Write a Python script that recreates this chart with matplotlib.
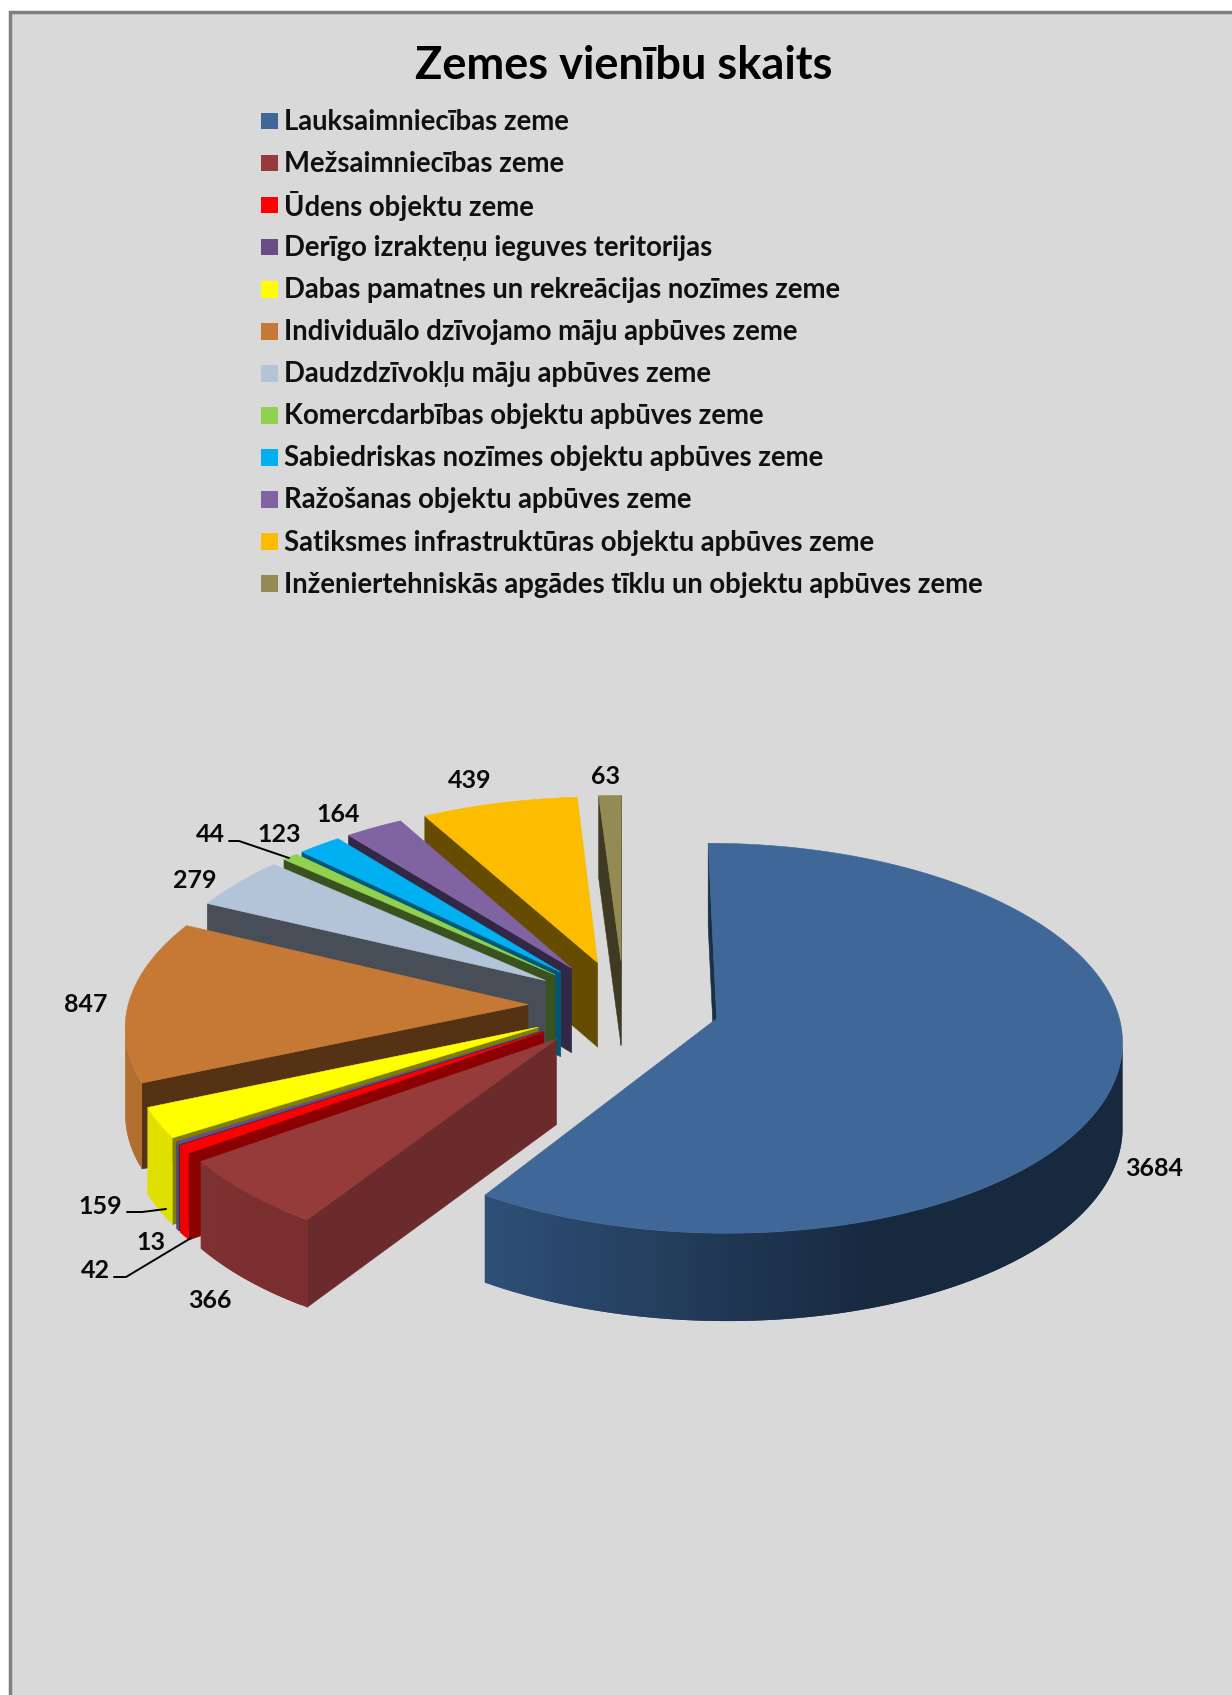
import numpy as np
import matplotlib
matplotlib.use("Agg")
import matplotlib.pyplot as plt
from matplotlib.patches import Polygon, Rectangle
from matplotlib.colors import to_rgb

title = "Zemes vienību skaits"
categories = ["Lauksaimniecības zeme", "Mežsaimniecības zeme", "Ūdens objektu zeme",
              "Derīgo izrakteņu ieguves teritorijas", "Dabas pamatnes un rekreācijas nozīmes zeme",
              "Individuālo dzīvojamo māju apbūves zeme", "Daudzdzīvokļu māju apbūves zeme",
              "Komercdarbības objektu apbūves zeme", "Sabiedriskas nozīmes objektu apbūves zeme",
              "Ražošanas objektu apbūves zeme", "Satiksmes infrastruktūras objektu apbūves zeme",
              "Inženiertehniskās apgādes tīklu un objektu apbūves zeme"]
values = [3684, 366, 42, 13, 159, 847, 279, 44, 123, 164, 439, 63]

top_colors = ["#3F6797", "#953C3A", "#FF0000", "#6A4D87", "#FFFF00", "#C67935",
              "#B3C4D9", "#92D050", "#00B0F0", "#8064A2", "#FCBD00", "#948A54"]
cut_colors = ["#1B2F47", "#6B2A2B", "#8B0000", "#3A2A4C", "#808000", "#553214",
              "#474E57", "#3A521F", "#005878", "#322845", "#664C00", "#3F3A23"]
rim_left = ["#2F5078", "#7F3232", "#EE0000", "#5A4272", "#E0E000", "#B5702F",
            "#8C9AAB", "#74A640", "#008CC0", "#66507F", "#CC9900", "#756D42"]
rim_right = ["#17293F", "#7A2E2E", "#EE0000", "#5A4272", "#E0E000", "#A86A30",
             "#8C9AAB", "#74A640", "#008CC0", "#66507F", "#CC9900", "#756D42"]
label_xy = [(1154, 1168), (210, 1300), (95, 1271), (151, 1243), (100, 1206), (86, 1005),
            (195, 880), (210, 835), (279, 835), (338, 814), (470, 781), (605, 776)]
leaders = [[(229, 841), (239, 841), (289, 858)],
           [(127, 1212), (142, 1212), (166, 1209)],
           [(114, 1277), (126, 1277), (191, 1238)]]

W, H = 1232, 1695
CX, CY, R, EXPL, DEPTH = 624.0, 1005.5, 400.0, 96.0, 85.0
SQ, PERSP, PERSP_X, PERSP_Z = 0.476, 0.10, 0.10, 0.03

plt.rcParams["font.family"] = ["Lato", "DejaVu Sans"]
fig = plt.figure(figsize=(W / 100, H / 100), dpi=100, facecolor="white")
ax = fig.add_axes([0, 0, 1, 1])
ax.set_xlim(0, W)
ax.set_ylim(H, 0)
ax.axis("off")
ax.add_patch(Rectangle((9.5, 11.5), W + 20, H + 20, fc="#D9D9D9", ec="#7F7F7F", lw=2.5))


def project(x, y, z):
    s = 1.0 / (1.0 + PERSP * y / R)
    sx = 1.0 / (1.0 + PERSP_X * y / R)
    sz = 1.0 / (1.0 + PERSP_Z * y / R)
    return CX + x * sx, CY - SQ * y * s - z * sz


def area(pts):
    p = np.array(pts)
    return 0.5 * np.sum(p[:, 0] * np.roll(p[:, 1], -1) - np.roll(p[:, 0], -1) * p[:, 1])


def poly(pts, color, lw=0.4):
    ax.add_patch(Polygon(pts, closed=True, fc=color, ec=color if lw else "none", lw=lw, joinstyle="round"))


total = sum(values)
edges = np.concatenate([[0], np.cumsum(values)]) / total * 2 * np.pi
mids = (edges[:-1] + edges[1:]) / 2
order = np.argsort(-np.cos(mids))

for i in order:
    a0, a1, m = edges[i], edges[i + 1], mids[i]
    ox, oy = EXPL * np.sin(m), EXPL * np.cos(m)
    n = max(2, int(np.degrees(a1 - a0)) + 1)
    th = np.linspace(a0, a1, n)
    xs, ys = ox + R * np.sin(th), oy + R * np.cos(th)
    top = [project(x, y, 0) for x, y in zip(xs, ys)]
    bot = [project(x, y, -DEPTH) for x, y in zip(xs, ys)]
    A, B = project(ox, oy, 0), project(ox, oy, -DEPTH)
    start = [A, top[0], bot[0], B]
    end = [A, top[-1], bot[-1], B]
    if area(start) < 0:
        poly(start, cut_colors[i])
    if area(end) > 0:
        poly(end, cut_colors[i])
    all_x = [p[0] for p in top]
    lo, hi = min(all_x), max(all_x)
    cl, cr = np.array(to_rgb(rim_left[i])), np.array(to_rgb(rim_right[i]))
    # painted from the right so each band overlaps the next and no seam shows
    for j in range(n - 2, -1, -1):
        q = [top[j], top[j + 1], bot[j + 1], bot[j]]
        if area(q) < 0:
            k = min(j + 2, n - 1)
            q2 = [top[j]] + top[j + 1:k + 1] + bot[j + 1:k + 1][::-1] + [bot[j]]
            t = min(1.0, ((top[j][0] + top[j + 1][0]) / 2 - lo) / max(hi - lo, 1) / 0.62)
            poly(q2, tuple(cl + (cr - cl) * t), lw=0)
    poly([A] + top, top_colors[i])

for lab, (lx, ly) in zip(values, label_xy):
    ax.text(lx, ly, str(lab), ha="center", va="center", fontsize=18, fontweight="bold", color="#0A0A0A")
for pts in leaders:
    ax.plot(*zip(*pts), color="black", lw=1.4, solid_capstyle="round")

ax.text(624, 66, title, ha="center", va="center", fontsize=32.5, fontweight="bold", color="black")
for k, (name, c) in enumerate(zip(categories, top_colors)):
    yy = 121 + 42.05 * k
    ax.add_patch(Rectangle((261, yy - 8.2), 16.5, 16.5, fc=c, ec="none"))
    ax.text(284, yy + 1, name, ha="left", va="center", fontsize=19.8, fontweight="bold", color="#101010")

fig.savefig("out.png", dpi=100, facecolor="white")
